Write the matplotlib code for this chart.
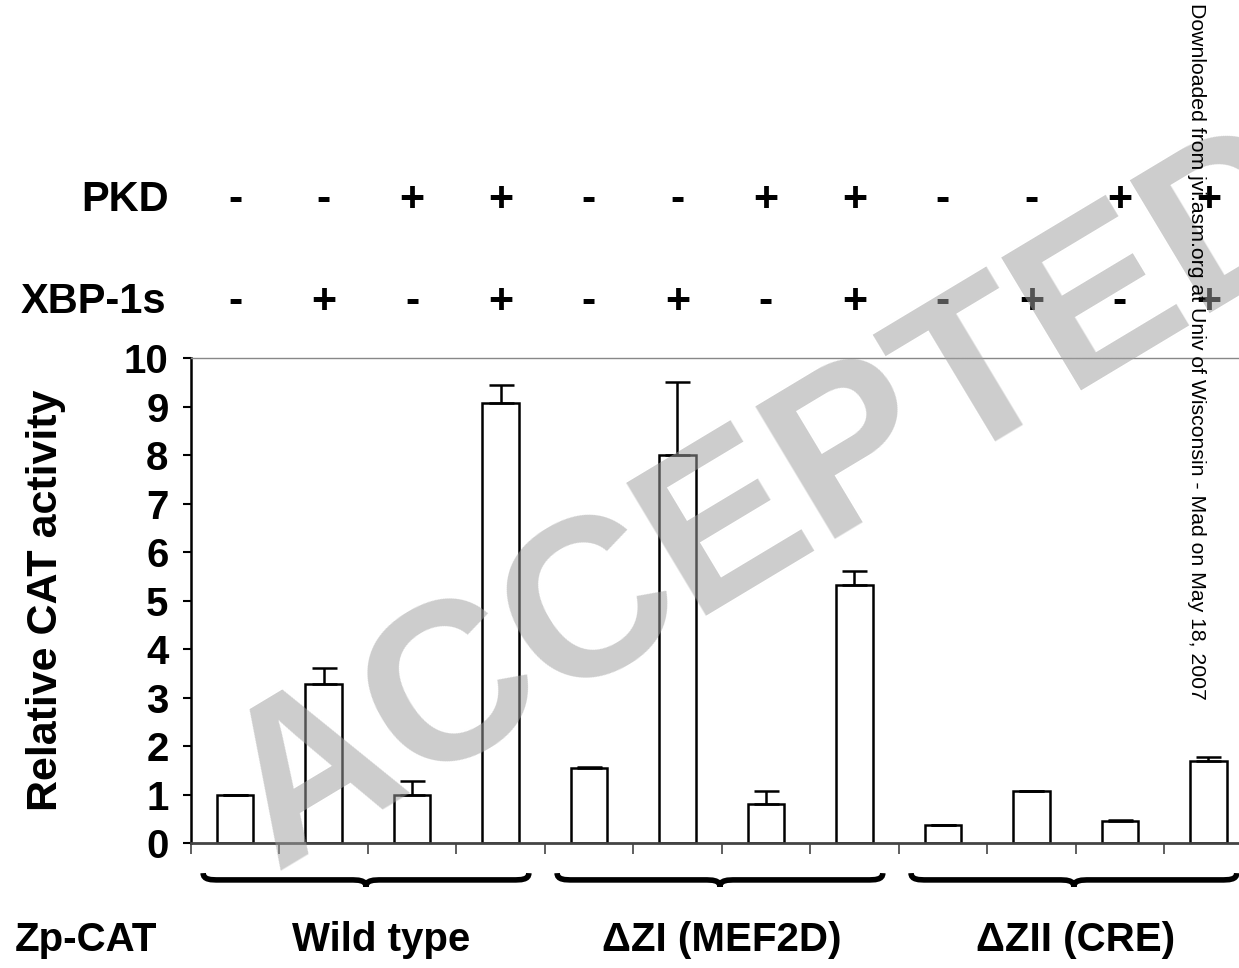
import matplotlib.pyplot as plt
import matplotlib.transforms as mtransforms
from matplotlib.path import Path
from matplotlib.patches import PathPatch
import numpy as np

plt.rcParams['font.family'] = ['Liberation Sans', 'DejaVu Sans']

# data
values = [1.0, 3.28, 1.0, 9.07, 1.55, 8.0, 0.8, 5.33, 0.37, 1.07, 0.45, 1.7]
errors = [0.0, 0.33, 0.28, 0.38, 0.03, 1.5, 0.27, 0.28, 0.01, 0.01, 0.03, 0.08]
pkd = ['-', '-', '+', '+', '-', '-', '+', '+', '-', '-', '+', '+']
xbp = ['-', '+', '-', '+', '-', '+', '-', '+', '-', '+', '-', '+']
groups = ['Wild type', '\u0394ZI (MEF2D)', '\u0394ZII (CRE)']
group_pos = [2.15, 6.0, 10.0]
yticks = list(range(0, 11))

fig = plt.figure(figsize=(12.39, 9.68), dpi=100)
ax = fig.add_axes([0.154, 0.129, 0.857, 0.501])

x = np.arange(len(values)) + 0.5
ax.bar(x, values, width=0.41, color='white', edgecolor='black', linewidth=1.8, zorder=2)
ax.errorbar(x, values, yerr=[np.zeros(len(errors)), errors], fmt='none',
            ecolor='black', elinewidth=1.8, capsize=9, capthick=1.8, zorder=3)

ax.set_xlim(0, len(values))
ax.set_ylim(0, 10)
ax.set_xticks(np.arange(0, len(values) + 1))
ax.set_xticklabels([])
ax.set_yticks(yticks)
ax.set_yticklabels([str(t) for t in yticks], fontsize=29, fontweight='bold')
ax.tick_params(axis='x', direction='out', length=8, width=1.2, color='#444444')
ax.tick_params(axis='y', direction='out', length=6, width=1.5, pad=10)
ax.spines['left'].set_linewidth(1.8)
ax.spines['bottom'].set_linewidth(2)
ax.spines['bottom'].set_color('#444444')
ax.spines['top'].set_linewidth(1)
ax.spines['top'].set_color('#888888')
ax.spines['right'].set_visible(False)
ax.set_ylabel('Relative CAT activity', fontsize=31, fontweight='bold', labelpad=42)

# +/- rows above the plot
trans = mtransforms.blended_transform_factory(ax.transData, fig.transFigure)
fig.text(0.136, 0.793, 'PKD', fontsize=30, fontweight='bold', ha='right', va='center')
fig.text(0.134, 0.688, 'XBP-1s', fontsize=30, fontweight='bold', ha='right', va='center')
for xi, p, s in zip(x, pkd, xbp):
    ax.text(xi, 0.793, p, transform=trans, fontsize=31, fontweight='bold',
            ha='center', va='center')
    ax.text(xi, 0.688, s, transform=trans, fontsize=31, fontweight='bold',
            ha='center', va='center')

# curly braces under each group
def brace(x0, x1, yb, h, d):
    xm = (x0 + x1) / 2
    verts = [(x0, yb + h), (x0, yb), (x0 + d, yb), (x0 + 2 * d, yb),
             (xm - 2 * d, yb), (xm - d, yb), (xm, yb), (xm, yb - h),
             (xm, yb), (xm + d, yb), (xm + 2 * d, yb),
             (x1 - 2 * d, yb), (x1 - d, yb), (x1, yb), (x1, yb + h)]
    codes = [Path.MOVETO, Path.CURVE4, Path.CURVE4, Path.CURVE4,
             Path.LINETO, Path.CURVE4, Path.CURVE4, Path.CURVE4,
             Path.CURVE4, Path.CURVE4, Path.CURVE4,
             Path.LINETO, Path.CURVE4, Path.CURVE4, Path.CURVE4]
    return PathPatch(Path(verts, codes), fill=False, lw=4, color='black',
                     transform=trans, clip_on=False)

for g in range(3):
    fig.add_artist(brace(4 * g + 0.14, 4 * g + 3.82, 0.091, 0.007, 0.09))
    ax.text(group_pos[g], 0.029, groups[g], transform=trans, fontsize=29,
            fontweight='bold', ha='center', va='center', clip_on=False)

fig.text(0.069, 0.029, 'Zp-CAT', fontsize=29, fontweight='bold', ha='center', va='center')

# watermark and side note
fig.text(0.626, 0.48, 'ACCEPTED', fontsize=162, fontweight='bold', color='#a0a0a0',
         alpha=0.53, rotation=31, ha='center', va='center', zorder=10)
fig.text(0.966, 0.997, 'Downloaded from jvi.asm.org at Univ of Wisconsin - Mad on May 18, 2007',
         fontsize=15.3, rotation=-90, ha='center', va='top', zorder=11)

fig.savefig('out.png', dpi=100)
